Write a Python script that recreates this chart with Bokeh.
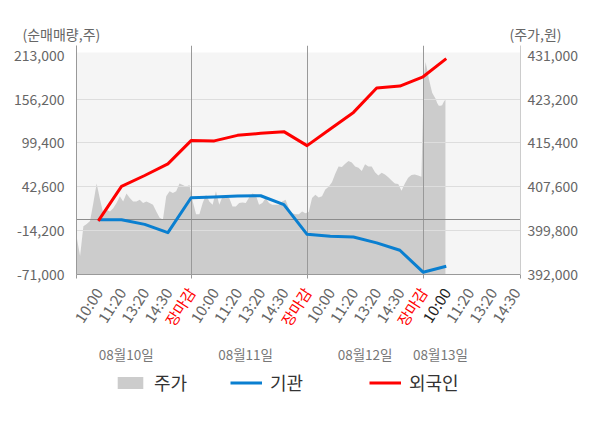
import numpy as np
from bokeh.plotting import figure
from bokeh.layouts import column
from bokeh.models import (Range1d, LinearAxis, FixedTicker, NumeralTickFormatter,
                          Label, Legend, LegendItem, BoxAnnotation)
from bokeh.core.properties import value
from bokeh.embed import file_html
from bokeh.resources import INLINE

FONT = "Noto Sans CJK KR"

# ---------------- data ----------------
time_labels = ["10:00", "11:20", "13:20", "14:30", "장마감"]
day_names = ["08월10일", "08월11일", "08월12일", "08월13일"]
n_label_slots = 19          # day 4 has no close yet
current_slot = 16           # latest (highlighted) time label

# cumulative net buying (shares) at each time slot, slot 1..16
institution = [0, 0, -6100, -16800, 28400, 29200, 30500, 31000, 19400,
               -19000, -21600, -22400, -30000, -39600, -68000, -60300]
foreign = [-1500, 43000, 57200, 72300, 102400, 102000, 109200, 111800, 114000,
           95900, 117500, 138900, 170400, 173000, 185000, 208600]

# stock price (won), sampled through each trading day
price_day1 = [398600, 395300, 400600, 401000, 401500, 404700, 408200, 405400, 402900,
              403500, 403200, 403800, 404700, 405900, 405000, 406400, 405600, 405000,
              405000, 405300, 404700, 405000, 404700, 404400, 403200, 402100, 401800,
              405900, 406800, 406500, 406800, 408200, 407900, 407600, 407900]
price_day2 = [405000, 402700, 402700, 404700, 406200, 405000, 404400, 406800, 404400,
              405900, 405900, 405600, 404100, 404100, 404700, 404800, 404700, 405700,
              406400, 406200, 404400, 404700, 405600, 404700, 404400, 404400, 404400,
              405000, 405300, 403800, 402900, 402700, 402700, 403200, 402900]
price_day3 = [403100, 405600, 406200, 405700, 405900, 407100, 407600, 408400, 409900,
              411200, 411100, 411700, 412200, 411900, 411200, 411000, 410400, 411600,
              411200, 411200, 410200, 409600, 410100, 409800, 409300, 408700, 408200,
              408100, 406900, 408200, 409200, 409700, 409800, 409600, 409400]
price_day4 = [427300, 429800, 428400, 426800, 425500, 424300, 423800, 423300, 422500,
              422000, 422000, 422100, 422700, 423100]
samples_per_day = [35, 35, 35, 70]

net_ticks = [-71000, -14200, 42600, 99400, 156200, 213000]
price_ticks = [392000, 399800, 407600, 415400, 423200, 431000]

# ---------------- layout constants ----------------
W, H = 600, 428
TOP_H = 45
FRAME_H = 229
MAIN_BOTTOM = 9
BOT_H = H - TOP_H - FRAME_H - MAIN_BOTTOM
LEFT, RIGHT = 76, 80
FRAME_W = W - LEFT - RIGHT

# ---------------- derived ----------------
slots_per_day = len(time_labels)
price_days = [price_day1, price_day2, price_day3, price_day4]
px, py = [], []
for d, (vals, n) in enumerate(zip(price_days, samples_per_day)):
    k = np.arange(len(vals))
    px.extend(d * slots_per_day + (k + 0.5) * slots_per_day / n)
    py.extend(vals)

flow_x = np.arange(1, len(foreign) + 1)
day_bounds = [slots_per_day * d for d in range(1, len(day_names))]

x_start, x_end = 0.06, 19.2
tick_x = [x_start] + day_bounds + [x_end]
pad = 9.3 / 220.0
net_lo, net_hi = net_ticks[0], net_ticks[-1]
pr_lo, pr_hi = price_ticks[0], price_ticks[-1]
y_range = Range1d(net_lo, net_lo + (net_hi - net_lo) / (1 - pad))
pr_range = Range1d(pr_lo, pr_lo + (pr_hi - pr_lo) / (1 - pad))

# ---------------- top strip (axis unit captions) ----------------
top = figure(width=W, height=TOP_H, output_backend="svg", toolbar_location=None,
             x_range=Range1d(0, 1), y_range=Range1d(0, 1),
             x_axis_location=None, y_axis_location=None, min_border=0)
top.frame_align = False
top.outline_line_color = None
top.grid.visible = False
top.add_layout(Label(x=22, y=12, x_units="screen", y_units="screen",
                     text="(순매매량,주)", text_align="left", text_baseline="middle",
                     text_font=FONT, text_font_size="14px", text_color="#666666"))
top.add_layout(Label(x=509, y=12, x_units="screen", y_units="screen",
                     text="(주가,원)", text_align="left", text_baseline="middle",
                     text_font=FONT, text_font_size="14px", text_color="#666666"))

# ---------------- main chart ----------------
p = figure(width=W, height=FRAME_H + MAIN_BOTTOM, output_backend="svg",
           toolbar_location=None,
           x_range=Range1d(x_start, x_end), y_range=y_range,
           min_border_left=LEFT, min_border_right=RIGHT, min_border_top=0,
           min_border_bottom=MAIN_BOTTOM)
p.frame_align = False
p.extra_y_ranges = {"price": pr_range}
p.outline_line_color = None
p.background_fill_color = "white"
p.border_fill_color = "white"
p.xgrid.visible = False
p.ygrid.visible = False

bg_top = net_lo + (y_range.end - net_lo) * (222.0 / 229.0)
p.add_layout(BoxAnnotation(top=bg_top, fill_color="#f5f5f5", fill_alpha=1.0,
                           line_color=None, level="image"))

area = p.varea(x=px, y1=pr_lo, y2=py, fill_color="#cccccc", y_range_name="price")

p.hspan(y=net_ticks[1:-1], line_color="#dddddd", line_width=1)
p.vspan(x=day_bounds, line_color="#999999", line_width=1)
p.hspan(y=[0], line_color="#8c8c8c", line_width=1)

p.line(flow_x, institution, line_color="#0a7fd0", line_width=3, line_join="round")
p.line(flow_x, foreign, line_color="#ff0000", line_width=3, line_join="round")

# bottom axis: line plus short ticks at the day boundaries, no labels
xa = p.xaxis[0]
xa.ticker = FixedTicker(ticks=[], minor_ticks=tick_x)
xa.axis_line_color = "#999999"
xa.minor_tick_line_color = "#999999"
xa.minor_tick_out = 4
xa.minor_tick_in = 0
xa.major_tick_line_color = None
xa.major_label_standoff = 0

ya = p.yaxis[0]
ya.ticker = FixedTicker(ticks=net_ticks)
ya.formatter = NumeralTickFormatter(format="0,0")
ya.axis_line_color = "#999999"
ya.major_tick_line_color = None
ya.minor_tick_line_color = None
ya.major_tick_out = 0
ya.major_label_standoff = 12
ya.major_label_text_font = FONT
ya.major_label_text_font_size = "14px"
ya.major_label_text_color = "#666666"

ra = LinearAxis(y_range_name="price", ticker=FixedTicker(ticks=price_ticks),
                formatter=NumeralTickFormatter(format="0,0"))
ra.axis_line_color = "#cccccc"
ra.major_tick_line_color = None
ra.minor_tick_line_color = None
ra.major_tick_out = 0
ra.major_label_standoff = 7
ra.major_label_text_font = FONT
ra.major_label_text_font_size = "14px"
ra.major_label_text_color = "#666666"
p.add_layout(ra, "right")

# ---------------- bottom strip: time labels, dates, legend ----------------
ppu = FRAME_W / (x_end - x_start)
bot = figure(width=W, height=BOT_H, output_backend="svg", toolbar_location=None,
             x_range=Range1d(x_start - LEFT / ppu, x_end + RIGHT / ppu),
             y_range=Range1d(-BOT_H, 0),
             x_axis_location=None, y_axis_location=None, min_border=0)
bot.frame_align = False
bot.outline_line_color = None
bot.grid.visible = False

lab_x, lab_t, lab_c = [], [], []
for i in range(n_label_slots):
    s = i + 1
    txt = time_labels[i % slots_per_day]
    if txt == "장마감":
        col = "#ff0000"
    elif s == current_slot:
        col = "#222222"
    else:
        col = "#666666"
    lab_x.append(s)
    lab_t.append(txt)
    lab_c.append(col)
bot.text(x=lab_x, y=[-5.7] * len(lab_x), text=lab_t, text_color=lab_c,
         angle=57, angle_units="deg", text_align="right", text_baseline="middle",
         text_font=value(FONT), text_font_size="15px")

day_label_x = [2.2, 7.35, 12.5, 15.75]
bot.text(x=day_label_x, y=[-70] * len(day_label_x), text=day_names,
         text_color="#777777", text_align="center", text_baseline="middle",
         text_font=value(FONT), text_font_size="13.5px")

nan1 = [float("nan")]
leg_area = bot.varea(x=nan1, y1=nan1, y2=nan1, fill_color="#cccccc")
leg_inst = bot.line(x=nan1, y=nan1, line_color="#0a7fd0", line_width=3)
leg_for = bot.line(x=nan1, y=nan1, line_color="#ff0000", line_width=3)
for rend, lab, lx in [(leg_area, "주가", 114), (leg_inst, "기관", 230), (leg_for, "외국인", 369)]:
    lg = Legend(items=[LegendItem(label=lab, renderers=[rend])],
                location=(lx, 33), orientation="horizontal",
                glyph_width=32, glyph_height=15, label_standoff=8,
                padding=0, margin=0, border_line_color=None,
                background_fill_alpha=0, label_text_font=FONT,
                label_text_font_size="18px", label_text_color="#333333")
    bot.add_layout(lg)

layout = column(top, p, bot, spacing=0)
open("out.html", "w").write(file_html(layout, INLINE, "chart"))
